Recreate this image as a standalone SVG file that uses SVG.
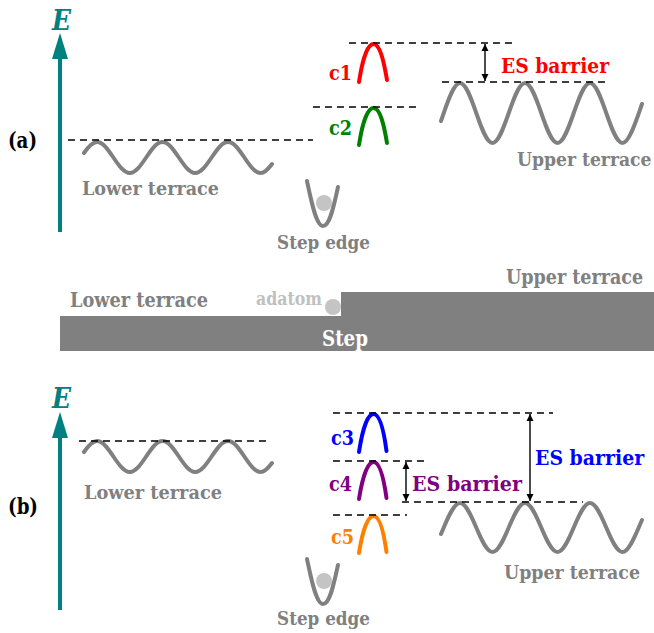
<svg xmlns="http://www.w3.org/2000/svg" width="654" height="633" viewBox="0 0 654 633">
  <defs>
    <marker id="ah" viewBox="0 0 10 10" refX="10" refY="5" markerWidth="7" markerHeight="9" markerUnits="userSpaceOnUse" orient="auto-start-reverse">
      <path d="M0,0 L10,5 L0,10 Z" fill="#000"/>
    </marker>
  </defs>
  <style>
    .t { font-family: "DejaVu Serif", "Liberation Serif", serif; font-weight: bold; }
    .gray { fill: #808080; }
    .wave { fill: none; stroke: #808080; stroke-width: 4; stroke-linecap: round; }
    .hump { fill: none; stroke-width: 4; stroke-linecap: round; }
    .dash { stroke: #000; stroke-width: 1.3; stroke-dasharray: 7 5; fill: none; }
    .arr { stroke: #000; stroke-width: 1.4; fill: none; marker-start: url(#ah); marker-end: url(#ah); }
    .axis { stroke: #008080; stroke-width: 4; }
    .ball { fill: #c4c4c4; }
  </style>

  <!-- ===== Panel (a) ===== -->
  <g id="axis-a">
    <line class="axis" x1="60" y1="232" x2="60" y2="55"/>
    <polygon points="60,33 52,59 68,59" fill="#008080"/>
    <text class="t" x="52" y="30" font-size="27" font-style="italic" fill="#008080" textLength="19" lengthAdjust="spacingAndGlyphs">E</text>
  </g>
  <text class="t" x="8" y="148" font-size="22" fill="#000" textLength="29" lengthAdjust="spacingAndGlyphs">(a)</text>

  <g id="lower-terrace-a">
    <path class="wave" d="M84,153 C87,148.7 92.5,142 97,142 C108.8,142 118,173 129.8,173 C141.6,173 150.7,142 162.5,142 C174.3,142 183.4,173 195.2,173 C207,173 216.2,142 228,142 C239.8,142 248.9,173 260.7,173 C265,173 269,168 272,164"/>
    <text class="t gray" x="82" y="195" font-size="19" textLength="137" lengthAdjust="spacingAndGlyphs">Lower terrace</text>
  </g>

  <g id="step-edge-a">
    <circle class="ball" cx="324" cy="203" r="8"/>
    <path class="wave" d="M307,181 C311,200 316,226 323,226 C330,226 334,205 338,187"/>
    <text class="t gray" x="277" y="249" font-size="19" textLength="93" lengthAdjust="spacingAndGlyphs">Step edge</text>
  </g>

  <g id="c1">
    <path class="hump" stroke="#ff0000" d="M359,82 C362,62 367,44 373.5,44 C380,44 384,62 387,80"/>
    <text class="t" x="329" y="80" font-size="20" fill="#ff0000" textLength="23" lengthAdjust="spacingAndGlyphs">c1</text>
  </g>
  <g id="c2">
    <path class="hump" stroke="#008000" d="M359,145 C362,125 367,108 373.5,108 C380,108 384,125 387,143"/>
    <text class="t" x="329" y="135" font-size="20" fill="#008000" textLength="23" lengthAdjust="spacingAndGlyphs">c2</text>
  </g>

  <g id="upper-terrace-a">
    <path class="wave" d="M441,121 C446,107 453,83 460,83 C471.7,83 480.8,143 492.5,143 C504.2,143 513.3,83 525,83 C536.7,83 545.8,143 557.5,143 C569.2,143 578.3,83 590,83 C601.7,83 610.8,143 622.5,143 C629.5,143 637,118 642,104"/>
    <text class="t gray" transform="translate(517,166) scale(0.905,1)" x="0" y="0" font-size="19">Upper terrace</text>
  </g>

  <text class="t" x="501" y="73" font-size="21" fill="#ff0000" textLength="108" lengthAdjust="spacingAndGlyphs">ES barrier</text>

  <!-- ===== Middle: step cross-section ===== -->
  <g id="step">
    <rect x="60" y="316" width="594" height="35" fill="#808080"/>
    <rect x="341" y="292" width="313" height="25" fill="#808080"/>
    <text class="t" x="322" y="346" font-size="22" fill="#ffffff" textLength="46" lengthAdjust="spacingAndGlyphs">Step</text>
  </g>
  <g id="adatom">
    <circle class="ball" cx="333" cy="307" r="8"/>
    <text class="t" x="256" y="305" font-size="18" fill="#c0c0c0" textLength="66" lengthAdjust="spacingAndGlyphs">adatom</text>
  </g>
  <text class="t gray" x="70" y="307" font-size="21" textLength="138" lengthAdjust="spacingAndGlyphs">Lower terrace</text>
  <text class="t gray" transform="translate(506,284) scale(0.835,1)" x="0" y="0" font-size="21">Upper terrace</text>

  <!-- ===== Panel (b) ===== -->
  <g id="axis-b">
    <line class="axis" x1="60" y1="610" x2="60" y2="434"/>
    <polygon points="60,412 52,438 68,438" fill="#008080"/>
    <text class="t" x="52" y="408" font-size="27" font-style="italic" fill="#008080" textLength="19" lengthAdjust="spacingAndGlyphs">E</text>
  </g>
  <text class="t" x="8" y="514" font-size="22" fill="#000" textLength="30" lengthAdjust="spacingAndGlyphs">(b)</text>

  <g id="lower-terrace-b">
    <path class="wave" d="M84,452 C87,447.7 92.5,441 97,441 C108.8,441 118,472 129.8,472 C141.6,472 150.7,441 162.5,441 C174.3,441 183.4,472 195.2,472 C207,472 216.2,441 228,441 C239.8,441 248.9,472 260.7,472 C265,472 269,467 272,463"/>
    <text class="t gray" x="84" y="499" font-size="19" textLength="138" lengthAdjust="spacingAndGlyphs">Lower terrace</text>
  </g>

  <g id="step-edge-b">
    <circle class="ball" cx="324" cy="581" r="8"/>
    <path class="wave" d="M307,559 C311,578 316,604 323,604 C330,604 334,583 338,565"/>
    <text class="t gray" x="277" y="625" font-size="19" textLength="93" lengthAdjust="spacingAndGlyphs">Step edge</text>
  </g>

  <g id="c3">
    <path class="hump" stroke="#0000ff" d="M359,452 C362,432 367,414 373.5,414 C380,414 384,432 386.5,451"/>
    <text class="t" x="331" y="445" font-size="20" fill="#0000ff" textLength="23" lengthAdjust="spacingAndGlyphs">c3</text>
  </g>
  <g id="c4">
    <path class="hump" stroke="#800080" d="M359,499 C362,480 367,462 373.5,462 C380,462 384,480 386.5,498"/>
    <text class="t" x="329" y="491" font-size="20" fill="#800080" textLength="23" lengthAdjust="spacingAndGlyphs">c4</text>
  </g>
  <g id="c5">
    <path class="hump" stroke="#ff8000" d="M359,553 C362,534 367,516 373.5,516 C380,516 384,534 386.5,552"/>
    <text class="t" x="331" y="544" font-size="20" fill="#ff8000" textLength="23" lengthAdjust="spacingAndGlyphs">c5</text>
  </g>

  <g id="upper-terrace-b">
    <path class="wave" d="M441,534 C446,522.5 453,503 460,503 C471.7,503 480.8,552 492.5,552 C504.2,552 513.3,503 525,503 C536.7,503 545.8,552 557.5,552 C569.2,552 578.3,503 590,503 C601.7,503 610.8,552 622.5,552 C629.5,552 637,531 642,520"/>
    <text class="t gray" x="504" y="579" font-size="19" textLength="136" lengthAdjust="spacingAndGlyphs">Upper terrace</text>
  </g>

  <text class="t" x="412" y="491" font-size="21" fill="#800080" textLength="110" lengthAdjust="spacingAndGlyphs">ES barrier</text>
  <text class="t" transform="translate(535,465) scale(0.9,1)" x="0" y="0" font-size="21" fill="#0000ff">ES barrier</text>

  <!-- ===== Connectors: reference levels and barrier arrows ===== -->
  <g id="connectors">
    <line class="dash" x1="68" y1="140" x2="313" y2="140"/>
    <line class="dash" x1="313" y1="107" x2="420" y2="107"/>
    <line class="dash" x1="349" y1="43" x2="513" y2="43"/>
    <line class="dash" x1="442" y1="82" x2="606" y2="82"/>
    <line class="arr" x1="485" y1="44" x2="485" y2="81"/>

    <line class="dash" x1="79" y1="441" x2="270" y2="441"/>
    <line class="dash" x1="333" y1="413" x2="553" y2="413"/>
    <line class="dash" x1="333" y1="461" x2="428" y2="461"/>
    <line class="dash" x1="402" y1="502" x2="583" y2="502"/>
    <line class="dash" x1="333" y1="515" x2="407" y2="515"/>
    <line class="arr" x1="406" y1="462" x2="406" y2="501"/>
    <line class="arr" x1="530" y1="414" x2="530" y2="501"/>
  </g>
</svg>
